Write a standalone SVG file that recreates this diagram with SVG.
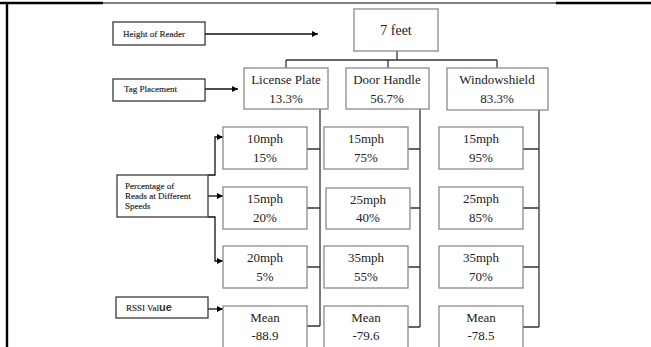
<svg xmlns="http://www.w3.org/2000/svg" width="651" height="347" viewBox="0 0 651 347">
<defs>
<style>
.box{fill:#fff;stroke:#8a8a8a;stroke-width:1.3}
.lbl{fill:#fff;stroke:#3a3a3a;stroke-width:1.3}
.t{font-family:"Liberation Serif","Times New Roman",serif;font-size:13px;fill:#222;text-anchor:middle}
.s{font-family:"Liberation Serif","Times New Roman",serif;font-size:9px;fill:#222;stroke:#222;stroke-width:0.15}
.c{fill:none;stroke:#333;stroke-width:1.3}
.a{fill:none;stroke:#111;stroke-width:1.3;marker-end:url(#ah)}
</style>
<marker id="ah" viewBox="0 0 10 10" refX="10" refY="5" markerWidth="6" markerHeight="6" markerUnits="userSpaceOnUse" orient="auto">
<path d="M0,0 L10,5 L0,10 Z" fill="#000"/>
</marker>
</defs>
<rect width="651" height="347" fill="#fff"/>
<g id="frame">
<line x1="0" y1="3" x2="103" y2="3" stroke="#000" stroke-width="2.4"/>
<line x1="103" y1="3" x2="556" y2="3" stroke="#000" stroke-width="1.2"/>
<line x1="556" y1="3" x2="651" y2="3" stroke="#000" stroke-width="2.4"/>
<line x1="7" y1="2" x2="7" y2="347" stroke="#000" stroke-width="2.4"/>
</g>
<g id="connectors">
<path class="c" d="M397,51 V60 M286,60 H497 M286,60 V68 M388,60 V68 M497,60 V68"/>
<path class="c" d="M320,109 V326 M307,149 H320 M307,208 H320 M307,267 H320 M307,326 H320"/>
<path class="c" d="M420,109 V327 M408,149 H420 M410,208 H420 M408,267 H420 M408,327 H420"/>
<path class="c" d="M539,110 V327 M523,149 H539 M523,208 H539 M523,267 H539 M523,327 H539"/>
<path class="a" d="M205,34 H318"/>
<path class="a" d="M205,89 H238"/>
<path class="a" d="M208,175 H215 V137 H223"/>
<path class="a" d="M208,196 H223"/>
<path class="a" d="M208,217 H215 V261 H223"/>
<path class="a" d="M208,309 H223"/>
</g>
<g id="height-of-reader">
<rect class="lbl" x="113" y="22" width="92" height="23"/>
<text class="s" x="123" y="37">Height of Reader</text>
</g>
<g id="tag-placement">
<rect class="lbl" x="113" y="79" width="92" height="22"/>
<text class="s" x="124" y="92">Tag Placement</text>
</g>
<g id="percentage">
<rect class="lbl" x="117" y="175" width="91" height="42"/>
<text class="s" x="125" y="189">Percentage of</text>
<text class="s" x="125" y="199">Reads at Different</text>
<text class="s" x="125" y="209">Speeds</text>
</g>
<g id="rssi">
<rect class="lbl" x="116" y="297" width="92" height="21"/>
<text class="s" x="126" y="311">RSSI Val<tspan style="font-family:'Liberation Sans',Arial,sans-serif;font-size:11px;font-weight:bold;fill:#333;stroke:none">ue</tspan></text>
</g>
<g id="seven-feet">
<rect class="box" x="354" y="9" width="84" height="42"/>
<text class="t" x="396" y="35" style="font-size:14px">7 feet</text>
</g>
<g id="license-plate">
<rect class="box" x="244" y="68" width="84" height="41"/>
<text class="t" x="286" y="84">License Plate</text>
<text class="t" x="286" y="103">13.3%</text>
</g>
<g id="door-handle">
<rect class="box" x="346" y="68" width="83" height="41"/>
<text class="t" x="387" y="84">Door Handle</text>
<text class="t" x="387" y="103">56.7%</text>
</g>
<g id="windowshield">
<rect class="box" x="447" y="68" width="101" height="42"/>
<text class="t" x="497" y="84">Windowshield</text>
<text class="t" x="497" y="103">83.3%</text>
</g>
<g id="lp-10">
<rect class="box" x="223" y="127" width="84" height="42"/>
<text class="t" x="265" y="143">10mph</text>
<text class="t" x="265" y="162">15%</text>
</g>
<g id="lp-15">
<rect class="box" x="223" y="187" width="84" height="42"/>
<text class="t" x="265" y="203">15mph</text>
<text class="t" x="265" y="222">20%</text>
</g>
<g id="lp-20">
<rect class="box" x="223" y="246" width="84" height="42"/>
<text class="t" x="265" y="262">20mph</text>
<text class="t" x="265" y="281">5%</text>
</g>
<g id="lp-mean">
<rect class="box" x="223" y="306" width="84" height="50"/>
<text class="t" x="265" y="322">Mean</text>
<text class="t" x="265" y="340">-88.9</text>
</g>
<g id="dh-15">
<rect class="box" x="324" y="127" width="84" height="42"/>
<text class="t" x="366" y="143">15mph</text>
<text class="t" x="366" y="162">75%</text>
</g>
<g id="dh-25">
<rect class="box" x="326" y="188" width="84" height="41"/>
<text class="t" x="368" y="204">25mph</text>
<text class="t" x="368" y="222">40%</text>
</g>
<g id="dh-35">
<rect class="box" x="324" y="246" width="84" height="42"/>
<text class="t" x="366" y="262">35mph</text>
<text class="t" x="366" y="281">55%</text>
</g>
<g id="dh-mean">
<rect class="box" x="324" y="306" width="84" height="50"/>
<text class="t" x="366" y="322">Mean</text>
<text class="t" x="366" y="340">-79.6</text>
</g>
<g id="ws-15">
<rect class="box" x="439" y="127" width="84" height="42"/>
<text class="t" x="481" y="143">15mph</text>
<text class="t" x="481" y="162">95%</text>
</g>
<g id="ws-25">
<rect class="box" x="439" y="187" width="84" height="42"/>
<text class="t" x="481" y="203">25mph</text>
<text class="t" x="481" y="222">85%</text>
</g>
<g id="ws-35">
<rect class="box" x="439" y="246" width="84" height="42"/>
<text class="t" x="481" y="262">35mph</text>
<text class="t" x="481" y="281">70%</text>
</g>
<g id="ws-mean">
<rect class="box" x="439" y="306" width="84" height="50"/>
<text class="t" x="481" y="322">Mean</text>
<text class="t" x="481" y="340">-78.5</text>
</g>
</svg>
